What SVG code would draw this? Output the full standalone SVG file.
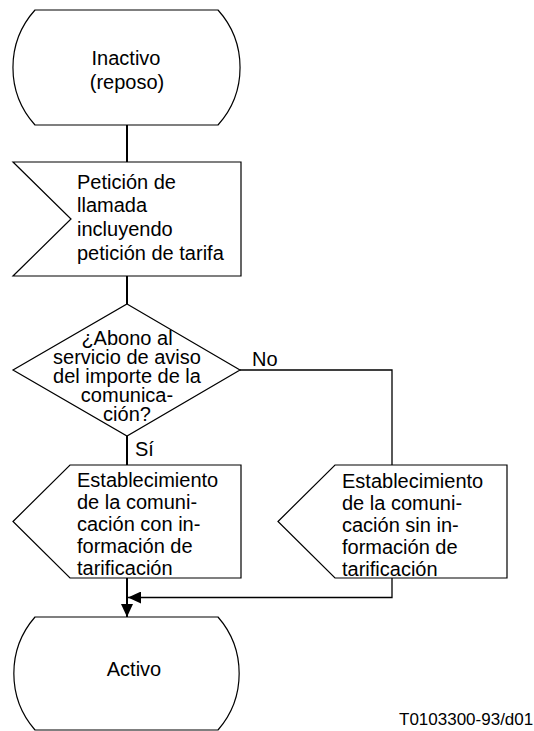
<svg xmlns="http://www.w3.org/2000/svg" width="534" height="731" viewBox="0 0 534 731">
<style>
.shape{fill:#fff;stroke:#000;stroke-width:1.2}
.conn{fill:none;stroke:#000;stroke-width:2}
.thin{fill:none;stroke:#000;stroke-width:1.3}
text{font-family:"Liberation Sans",Arial,Helvetica,sans-serif;font-size:20px;fill:#000}
.c{text-anchor:middle}
</style>
<defs>
<marker id="arr" viewBox="0 0 13 12" refX="13" refY="6" markerWidth="13" markerHeight="12" markerUnits="userSpaceOnUse" orient="auto">
<path d="M0,0 L13,6 L0,12 z" fill="#000"/>
</marker>
</defs>
<rect width="534" height="731" fill="#fff"/>
<g id="connectors">
<line class="conn" x1="127" y1="125" x2="127" y2="162"/>
<line class="conn" x1="127" y1="276" x2="127" y2="304"/>
<line class="conn" x1="127" y1="436" x2="127" y2="465"/>
<polyline class="thin" points="240,370 392,370 392,465"/>
<line class="conn" x1="127" y1="578" x2="127" y2="617" marker-end="url(#arr)"/>
<polyline class="thin" points="392,578 392,597.5 128,597.5" marker-end="url(#arr)"/>
<text x="252" y="366">No</text>
<text x="135" y="456">Sí</text>
</g>
<g id="inactivo">
<path class="shape" d="M35,10 H218 A86,86 0 0 1 218,125 H35 A86,86 0 0 1 35,10 Z"/>
<text class="c" x="126" y="65">Inactivo</text>
<text class="c" x="127" y="89">(reposo)</text>
</g>
<g id="peticion">
<polygon class="shape" points="13,162 241,162 241,276 13,276 71,219"/>
<text x="77" y="188.5">Petición de</text>
<text x="77" y="212.3">llamada</text>
<text x="77" y="236.2">incluyendo</text>
<text x="77" y="260">petición de tarifa</text>
</g>
<g id="decision">
<polygon class="shape" points="127,304 240,370 127,436 13,370"/>
<text class="c" x="127" y="345">¿Abono al</text>
<text class="c" x="127" y="364">servicio de aviso</text>
<text class="c" x="127" y="383">del importe de la</text>
<text class="c" x="127" y="402">comunica-</text>
<text class="c" x="127" y="421">ción?</text>
</g>
<g id="con-info">
<polygon class="shape" points="13,521.5 70,465 241,465 241,578 70,578"/>
<text x="77" y="487">Establecimiento</text>
<text x="77" y="509">de la comuni-</text>
<text x="77" y="531">cación con in-</text>
<text x="77" y="553">formación de</text>
<text x="77" y="575">tarificación</text>
</g>
<g id="sin-info">
<polygon class="shape" points="278,521.5 335,465 507,465 507,578 335,578"/>
<text x="342" y="488">Establecimiento</text>
<text x="342" y="510">de la comuni-</text>
<text x="342" y="532">cación sin in-</text>
<text x="342" y="554">formación de</text>
<text x="342" y="576">tarificación</text>
</g>
<g id="activo">
<path class="shape" d="M35,617 H218 A86,86 0 0 1 218,730 H35 A86,86 0 0 1 35,617 Z"/>
<text class="c" x="134" y="676">Activo</text>
</g>
<text x="399" y="725" style="font-size:17px">T0103300-93/d01</text>
</svg>
